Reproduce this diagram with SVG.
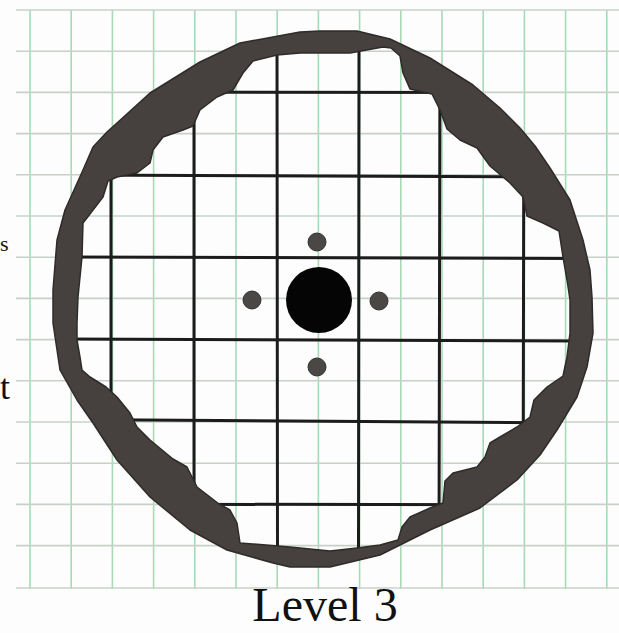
<svg xmlns="http://www.w3.org/2000/svg" width="619" height="633" viewBox="0 0 619 633">
<style>
.gv{stroke:#a6dbb6;stroke-width:1.6;fill:none}
.gh{stroke:#c6d2c8;stroke-width:1.6;fill:none}
.bl{stroke:#1c1c1c;stroke-width:3;fill:none;stroke-linecap:round}
.ring{fill:#46413e;stroke:#2f2b29;stroke-width:1.5;fill-rule:evenodd;stroke-linejoin:round}
.dot{fill:#4a4745;stroke:#333;stroke-width:1}
.lbl{font-family:"Liberation Serif","Times New Roman",serif;fill:#111}
</style>
<defs>
<clipPath id="inner"><circle cx="322" cy="300" r="255"/></clipPath>
</defs>
<rect x="0" y="0" width="619" height="633" fill="#fdfdfd"/>
<g id="paper">
<g class="gv">
<line x1="30" y1="10" x2="30" y2="589"/><line x1="71.2" y1="10" x2="71.2" y2="589"/><line x1="112.4" y1="10" x2="112.4" y2="589"/><line x1="153.6" y1="10" x2="153.6" y2="589"/><line x1="194.8" y1="10" x2="194.8" y2="589"/><line x1="236" y1="10" x2="236" y2="589"/><line x1="277.2" y1="10" x2="277.2" y2="589"/><line x1="318.4" y1="10" x2="318.4" y2="589"/><line x1="359.6" y1="10" x2="359.6" y2="589"/><line x1="400.8" y1="10" x2="400.8" y2="589"/><line x1="442" y1="10" x2="442" y2="589"/><line x1="483.2" y1="10" x2="483.2" y2="589"/><line x1="524.4" y1="10" x2="524.4" y2="589"/><line x1="565.6" y1="10" x2="565.6" y2="589"/><line x1="606.8" y1="10" x2="606.8" y2="589"/>
</g>
<g class="gh">
<line x1="16" y1="10" x2="619" y2="10"/><line x1="16" y1="51.2" x2="619" y2="51.2"/><line x1="16" y1="92.4" x2="619" y2="92.4"/><line x1="16" y1="133.6" x2="619" y2="133.6"/><line x1="16" y1="174.8" x2="619" y2="174.8"/><line x1="16" y1="216" x2="619" y2="216"/><line x1="16" y1="257.2" x2="619" y2="257.2"/><line x1="16" y1="298.4" x2="619" y2="298.4"/><line x1="16" y1="339.6" x2="619" y2="339.6"/><line x1="16" y1="380.8" x2="619" y2="380.8"/><line x1="16" y1="422" x2="619" y2="422"/><line x1="16" y1="463.2" x2="619" y2="463.2"/><line x1="16" y1="504.4" x2="619" y2="504.4"/><line x1="16" y1="545.6" x2="619" y2="545.6"/><line x1="16" y1="588" x2="619" y2="588"/>
</g>
</g>
<g id="drawn-grid" class="bl" clip-path="url(#inner)">
<line x1="111" y1="40" x2="111" y2="560"/>
<line x1="194" y1="40" x2="194" y2="560"/>
<line x1="277" y1="40" x2="277.5" y2="560"/>
<line x1="359" y1="40" x2="358.5" y2="560"/>
<line x1="440" y1="40" x2="439" y2="560"/>
<line x1="524" y1="40" x2="523" y2="560"/>
<line x1="60" y1="92" x2="580" y2="92.5"/>
<line x1="60" y1="175" x2="580" y2="177"/>
<line x1="60" y1="257" x2="580" y2="258.5"/>
<line x1="60" y1="339" x2="580" y2="341"/>
<line x1="60" y1="419.5" x2="580" y2="423"/>
<line x1="60" y1="504" x2="580" y2="505"/>
</g>
<g id="ring">
<path class="ring" d="M300,32 L320,31 L357,31 L390,39 L430,58 L473,85 L500,108 L520,128 L535,146 L550,168 L570,200 L583,240 L590,270 L592,297 L593,333 L587,367 L577,397 L557,430 L540,455 L517,480 L480,508 L430,530 L380,555 L330,567 L290,567 L273,563 L227,550 L190,530 L150,497 L117,460 L93,423 L77,400 L60,370 L53,323 L53,290 L57,240 L65,210 L83,170 L93,147 L107,132 L117,123 L150,93 L200,62 L240,43 Z
M300,53 L350,53 L383,47 L391,48 L400,56 L403,73 L410,89 L432,94 L440,110 L447,129 L460,140 L477,148 L490,166 L510,183 L523,197 L527,216 L543,223 L559,231 L563,257 L567,280 L570,300 L570,333 L567,357 L563,376 L547,387 L534,400 L530,417 L517,427 L500,437 L490,443 L485,457 L477,467 L453,473 L445,481 L443,503 L430,508 L410,517 L402,527 L398,540 L380,545 L357,548 L330,551 L290,547 L240,543 L237,523 L230,510 L219,504 L197,487 L187,467 L173,459 L150,440 L137,427 L130,413 L117,397 L106,387 L90,377 L82,370 L80,357 L77,340 L77,323 L78,297 L82,257 L83,223 L93,210 L103,197 L108,181 L117,177 L137,173 L150,163 L153,150 L163,137 L183,130 L193,126 L200,110 L217,97 L233,90 L243,73 L253,61 L277,55 Z"/>
</g>
<g id="center-hole"><circle cx="319" cy="300" r="33" fill="#050505"/></g>
<g id="dot-top"><circle class="dot" cx="317" cy="242" r="9"/></g>
<g id="dot-left"><circle class="dot" cx="252" cy="300" r="9"/></g>
<g id="dot-right"><circle class="dot" cx="379" cy="301" r="9"/></g>
<g id="dot-bottom"><circle class="dot" cx="317" cy="367" r="9"/></g>
<text class="lbl" x="0" y="251" font-size="22">s</text>
<text class="lbl" x="0" y="399" font-size="36">t</text>
<text id="caption" class="lbl" x="325" y="621" font-size="48" text-anchor="middle">Level 3</text>
</svg>
